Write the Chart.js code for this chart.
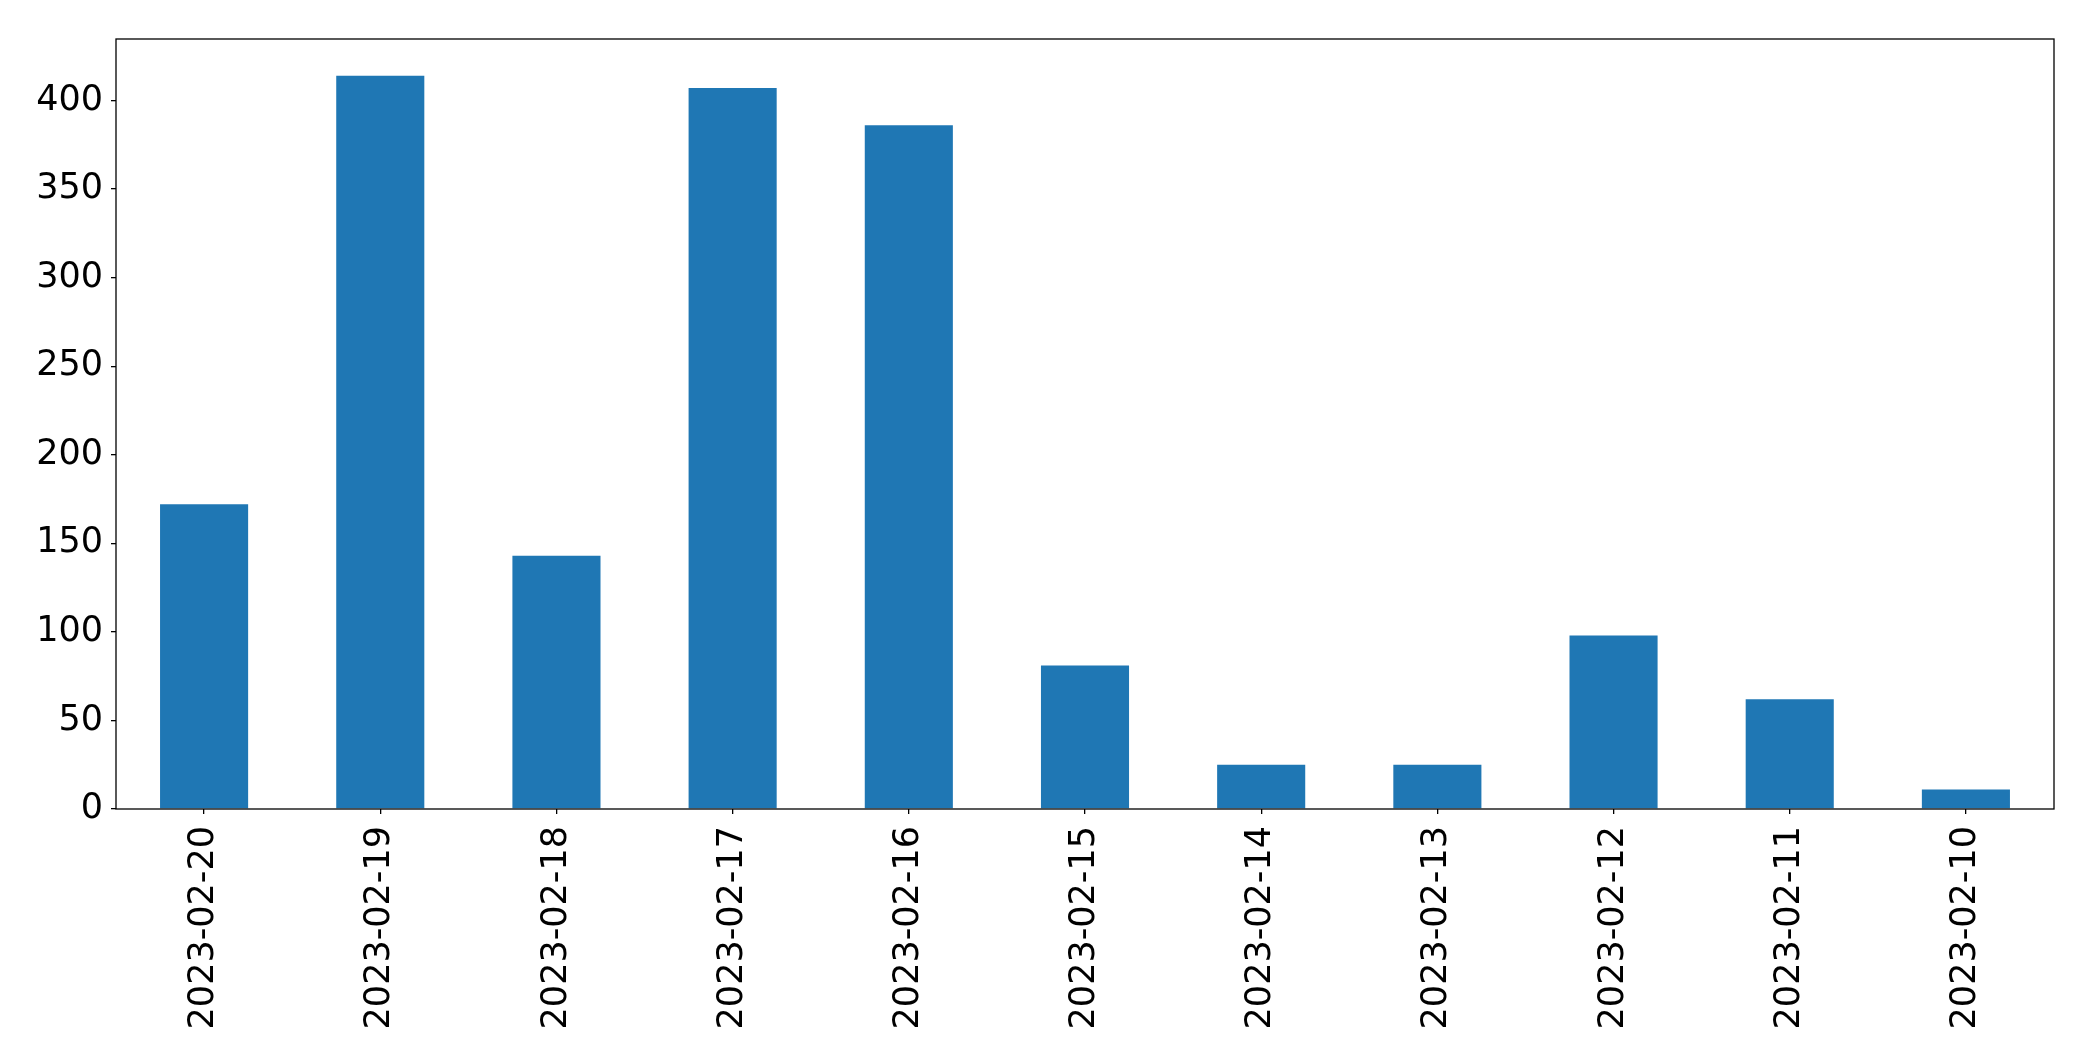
<!DOCTYPE html>
<html>
<head>
<meta charset="utf-8">
<script src="https://cdn.jsdelivr.net/npm/chart.js@4.4.0/dist/chart.umd.min.js"></script>
<style>
    html, body { margin: 0; padding: 0; background: #fff; }
    #wrap { width: 2093px; height: 1061px; }
</style>
</head>
<body>
<div id="wrap"><canvas id="barChart"></canvas></div>
<script>
// Daily counts, newest date first
const dates = ['2023-02-20', '2023-02-19', '2023-02-18', '2023-02-17', '2023-02-16', '2023-02-15',
               '2023-02-14', '2023-02-13', '2023-02-12', '2023-02-11', '2023-02-10'];
const counts = [172, 414, 143, 407, 386, 81, 25, 25, 98, 62, 11];
const yTicks = [0, 50, 100, 150, 200, 250, 300, 350, 400];
const yMax = 434.7;

// Draw the full box round the plot area (matplotlib style spines)
const frameBox = {
    id: 'frameBox',
    afterDraw(chart) {
        const { ctx, chartArea: a } = chart;
        ctx.save();
        ctx.strokeStyle = '#000';
        ctx.lineWidth = 1.3;
        ctx.strokeRect(a.left, a.top, a.right - a.left, a.bottom - a.top);
        ctx.restore();
    }
};

const ctx = document.getElementById('barChart').getContext('2d');
new Chart(ctx, {
    type: 'bar',
    data: {
        labels: dates,
        datasets: [{
            data: counts,
            backgroundColor: '#1f77b4',
            borderWidth: 0,
            categoryPercentage: 1.0,
            barPercentage: 0.5
        }]
    },
    options: {
        responsive: true,
        maintainAspectRatio: false,
        animation: false,
        layout: { padding: { top: 39, right: 39, left: 0, bottom: 0 } },
        plugins: {
            legend: { display: false },
            tooltip: { enabled: false }
        },
        scales: {
            x: {
                offset: true,
                grid: { display: true, offset: false, drawOnChartArea: false, tickLength: 5, color: '#000', lineWidth: 1.3 },
                border: { display: false },
                ticks: {
                    color: '#000',
                    font: { family: 'DejaVu Sans', size: 35 },
                    minRotation: 90,
                    maxRotation: 90,
                    padding: 12,
                    autoSkip: false
                },
                afterFit(scale) { scale.height = 252; }
            },
            y: {
                min: 0,
                max: yMax,
                grid: { display: true, drawOnChartArea: false, tickLength: 5, color: '#000', lineWidth: 1.3 },
                border: { display: false },
                ticks: {
                    color: '#000',
                    font: { family: 'DejaVu Sans', size: 35 },
                    padding: 8,
                    stepSize: 50
                },
                afterBuildTicks(scale) {
                    scale.ticks = yTicks.map(v => ({ value: v }));
                },
                afterFit(scale) { scale.width = 116; }
            }
        }
    },
    plugins: [frameBox]
});
</script>
</body>
</html>
